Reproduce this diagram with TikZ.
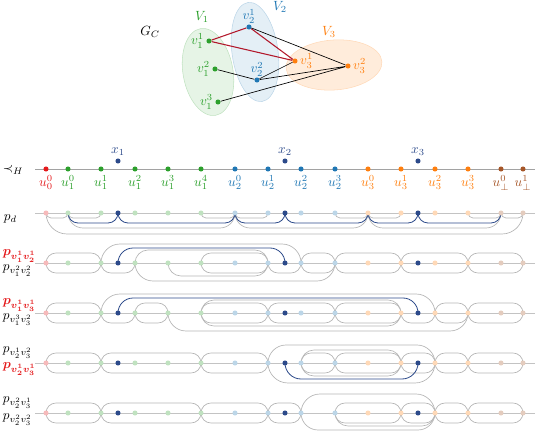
\documentclass[tikz,border=0pt]{standalone}
\usepackage{amsmath,amssymb,bm}
\usetikzlibrary{calc,positioning}

\definecolor{rougeU}{HTML}{E41A1C}
\definecolor{vertV}{HTML}{2CA02C}
\definecolor{bleuV}{HTML}{1F77B4}
\definecolor{orangeV}{HTML}{FF7F0E}
\definecolor{brunU}{HTML}{A65628}
\definecolor{bleuX}{HTML}{2C4A8A}
\definecolor{rougeE}{HTML}{B2182B}
\definecolor{gris}{HTML}{B4B4B4}

\tikzset{
  pt/.style={circle,fill=#1,inner sep=0pt,minimum size=3.8pt},
  lab/.style={inner sep=0.5pt},
  haut/.style={to path={.. controls +(0,-0.55*#1) and +(-0.55*#1,0) .. ($(\tikztostart)+(#1,-#1)$)
      -- ($(\tikztotarget)+(-#1,-#1)$) .. controls +(0.55*#1,0) and +(0,-0.55*#1) .. (\tikztotarget)}},
  bas/.style={to path={.. controls +(0,0.55*#1) and +(-0.55*#1,0) .. ($(\tikztostart)+(#1,#1)$)
      -- ($(\tikztotarget)+(-#1,#1)$) .. controls +(0.55*#1,0) and +(0,0.55*#1) .. (\tikztotarget)}},
  arc/.style={gris,line width=0.5pt},
  xarc/.style={bleuX,line width=0.6pt},
  ligne/.style={gris!80,line width=0.5pt},
}

\begin{document}
\begin{tikzpicture}[x=0.75pt,y=-0.75pt]
\useasboundingbox (0,0) rectangle (538,434);

% le graphe G_C
\draw[fill=vertV!12,draw=vertV!30] (208,72) ellipse [x radius=25,y radius=44,rotate=10];
\draw[fill=bleuV!12,draw=bleuV!30] (255,52) ellipse [x radius=23,y radius=50,rotate=8];
\draw[fill=orangeV!15,draw=orangeV!30] (334,65) ellipse [x radius=48,y radius=25,rotate=4];
\node[lab] (gc) at (150,32) {$G_C$};
\node[lab,text=vertV] (lv1) at (202,17) {$V_1$};
\node[lab,text=bleuV] (lv2) at (280,7) {$V_2$};
\node[lab,text=orangeV] (lv3) at (329,32) {$V_3$};
\node[pt=vertV] (v11) at (209,41) {};
\node[pt=vertV] (v12) at (215,69) {};
\node[pt=vertV] (v13) at (218,102) {};
\node[pt=bleuV] (v21) at (249,27) {};
\node[pt=bleuV] (v22) at (257,80) {};
\node[pt=orangeV] (v31) at (295,61) {};
\node[pt=orangeV] (v32) at (348,66) {};
\node[lab,text=vertV,left=1pt of v11] (lv11) {$v_1^1$};
\node[lab,text=vertV,left=1pt of v12] (lv12) {$v_1^2$};
\node[lab,text=vertV,left=1pt of v13] (lv13) {$v_1^3$};
\node[lab,text=bleuV,above=0pt of v21] (lv21) {$v_2^1$};
\node[lab,text=bleuV,above=0pt of v22] (lv22) {$v_2^2$};
\node[lab,text=orangeV,right=1pt of v31] (lv31) {$v_3^1$};
\node[lab,text=orangeV,right=1pt of v32] (lv32) {$v_3^2$};
\draw[rougeE,line width=0.8pt] (v11) -- (v21) -- (v31) -- (v11);
\draw[black,line width=0.5pt] (v21) -- (v32) (v12) -- (v22) -- (v31) (v22) -- (v32) (v13) -- (v32);

% l'ordre
\coordinate (h-s) at (35,169);
\coordinate (h-e) at (535,169);
\draw[gris!90!black,line width=0.6pt] (h-s) -- (h-e);
\node[lab] (prec) at (13,170) {$\prec_H$};
\foreach \n/\xx/\c/\lab in {u00/46/rougeU/u_0^0,u10/68/vertV/u_1^0,u11/101/vertV/u_1^1,
    u12/135/vertV/u_1^2,u13/168/vertV/u_1^3,u14/201/vertV/u_1^4,u20/235/bleuV/u_2^0,
    u21/268/bleuV/u_2^1,u22/301/bleuV/u_2^2,u23/335/bleuV/u_2^3,u30/368/orangeV/u_3^0,
    u31/401/orangeV/u_3^1,u32/435/orangeV/u_3^2,u33/468/orangeV/u_3^3,
    ub0/501/brunU/u_\perp^0,ub1/523/brunU/u_\perp^1}{
  \node[pt=\c] (h-\n) at (\xx,169) {};
  \node[lab,text=\c,below=2pt of h-\n] (hl-\n) {$\lab$};
}
\foreach \n/\xx/\lab in {x1/118/x_1,x2/285/x_2,x3/418/x_3}{
  \node[pt=bleuX] (h-\n) at (\xx,161) {};
  \node[lab,text=bleuX,above=1pt of h-\n] (hl-\n) {$\lab$};
}

% les lignes des chemins
\foreach \r/\yy in {1/213,2/263,3/313,4/363,5/413}{
  \coordinate (r\r-s) at (35,\yy);
  \coordinate (r\r-e) at (535,\yy);
  \draw[ligne] (r\r-s) -- (r\r-e);
  \foreach \n/\xx in {u00/46,u10/68,u11/101,u12/135,u13/168,u14/201,u20/235,u21/268,
      u22/301,u23/335,u30/368,u31/401,u32/435,u33/468,ub0/501,ub1/523,x1/118,x2/285,x3/418}
    \coordinate (r\r-\n) at (\xx,\yy);
}

\node[lab,anchor=west] (pd) at (3,219) {$p_d$};
\node[lab,anchor=west,text=rougeU] (p2a) at (2,256) {$\bm{p_{v_1^1v_2^1}}$};
\node[lab,anchor=west] (p2b) at (2,271) {$p_{v_1^2v_2^2}$};
\node[lab,anchor=west,text=rougeU] (p3a) at (2,305) {$\bm{p_{v_1^1v_3^1}}$};
\node[lab,anchor=west] (p3b) at (2,320) {$p_{v_1^3v_3^2}$};
\node[lab,anchor=west] (p4a) at (2,353) {$p_{v_2^1v_3^2}$};
\node[lab,anchor=west,text=rougeU] (p4b) at (2,369) {$\bm{p_{v_2^1v_3^1}}$};
\node[lab,anchor=west] (p5a) at (2,403) {$p_{v_2^2v_3^1}$};
\node[lab,anchor=west] (p5b) at (2,420) {$p_{v_2^2v_3^2}$};

% p_d
\draw[arc] (r1-u00) to[bas=21] (r1-ub1);
\foreach \a/\b in {u00/u10,u10/u11,u14/u20,u20/u21,u23/u30,u30/u31,u33/ub0,ub0/ub1}
  \draw[arc] (r1-\a) to[bas=5] (r1-\b);
\foreach \a/\b in {u10/u20,u20/u30,u30/ub0}
  \draw[arc] (r1-\a) to[bas=15] (r1-\b);
\foreach \a/\b in {u10/x1,x1/u20,u20/x2,x2/u30,u30/x3,x3/ub0}
  \draw[xarc] (r1-\a) to[bas=10] (r1-\b);

% ligne 2
\foreach \a/\b in {u00/u11,u14/u21,u22/u23,u23/u31,u31/u33,u33/ub1}
  \draw[arc] (r2-\a) to[haut=10] (r2-\b) (r2-\a) to[bas=10] (r2-\b);
\draw[arc] (r2-u11) to[haut=19] (r2-u22);
\draw[arc] (r2-u12) to[haut=13] (r2-u21);
\draw[arc] (r2-u11) to[bas=10] (r2-u12);
\draw[arc] (r2-u12) to[bas=18] (r2-u23);
\draw[arc] (r2-u13) to[bas=13] (r2-u21);
\draw[arc] (r2-u21) to[bas=10] (r2-u22);
\draw[xarc] (r2-x1) to[haut=15] (r2-x2);

% ligne 3
\foreach \a/\b in {u00/u11,u12/u13,u14/u21,u21/u23,u23/u31,u32/u33,u33/ub1}
  \draw[arc] (r3-\a) to[haut=10] (r3-\b) (r3-\a) to[bas=10] (r3-\b);
\draw[arc] (r3-u11) to[haut=19] (r3-u32);
\draw[arc] (r3-u14) to[haut=13] (r3-u31);
\draw[arc] (r3-u11) to[bas=10] (r3-u12);
\draw[arc] (r3-u13) to[bas=18] (r3-u33);
\draw[arc] (r3-u14) to[bas=13] (r3-u31);
\draw[arc] (r3-u31) to[bas=10] (r3-u32);
\draw[xarc] (r3-x1) to[haut=15] (r3-x3);

% ligne 4
\foreach \a/\b in {u00/u11,u11/u14,u14/u21,u22/u23,u23/u31,u31/u32,u32/u33,u33/ub1}
  \draw[arc] (r4-\a) to[haut=10] (r4-\b) (r4-\a) to[bas=10] (r4-\b);
\draw[arc] (r4-u21) to[haut=18] (r4-u32);
\draw[arc] (r4-u22) to[haut=13] (r4-u31);
\draw[arc] (r4-u22) to[bas=13] (r4-u31);
\draw[arc] (r4-u21) to[bas=20] (r4-u32);
\draw[xarc] (r4-x2) to[bas=16] (r4-x3);

% ligne 5
\foreach \a/\b in {u00/u11,u11/u14,u14/u21,u21/u22,u23/u31,u31/u32,u32/u33,u33/ub1}
  \draw[arc] (r5-\a) to[haut=10] (r5-\b) (r5-\a) to[bas=10] (r5-\b);
\draw[arc] (r5-u22) to[haut=19] (r5-u32);
\draw[arc] (r5-u22) to[bas=17] (r5-u32);
\draw[arc] (r5-u23) to[bas=13] (r5-u32);

% les points des lignes
\foreach \r in {1,...,5}{
  \foreach \n/\c in {u00/rougeU,u10/vertV,u11/vertV,u12/vertV,u13/vertV,u14/vertV,
      u20/bleuV,u21/bleuV,u22/bleuV,u23/bleuV,u30/orangeV,u31/orangeV,u32/orangeV,
      u33/orangeV,ub0/brunU,ub1/brunU}
    \node[pt=\c!30] (d\r-\n) at (r\r-\n) {};
  \foreach \n in {x1,x2,x3}
    \node[pt=bleuX] (d\r-\n) at (r\r-\n) {};
}
\end{tikzpicture}
\end{document}
